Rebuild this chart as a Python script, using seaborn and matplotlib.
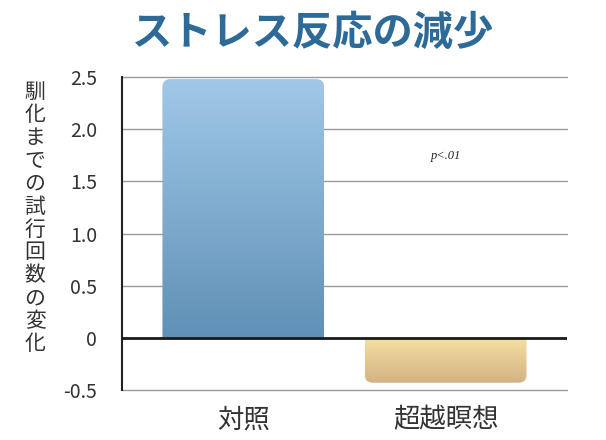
import numpy as np
import pandas as pd
import matplotlib
matplotlib.use('Agg')
import matplotlib.pyplot as plt
import seaborn as sns
from matplotlib.patches import FancyBboxPatch
from matplotlib.colors import LinearSegmentedColormap

# datos
grupos = ['対照', '超越瞑想']
valores = [2.48, -0.43]
yticks = [-0.5, 0, 0.5, 1.0, 1.5, 2.0, 2.5]
ytick_labels = ['-0.5', '0', '0.5', '1.0', '1.5', '2.0', '2.5']
titulo = 'ストレス反応の減少'
ylab = '馴化までの試行回数の変化'
nota = 'p<.01'

sns.set_style('white')
plt.rcParams['font.family'] = ['Noto Sans CJK JP', 'DejaVu Sans']

df = pd.DataFrame({'grupo': grupos, 'valor': valores})

fig = plt.figure(figsize=(6.06, 4.4), dpi=100)
ax = fig.add_axes([0.2013, 0.1136, 0.7343, 0.7114])

sns.barplot(data=df, x='grupo', y='valor', ax=ax, width=0.8, color='white')

# degradados para cada barra (esquinas redondeadas solo en el extremo)
grad = [('#a0c8e7', '#6090b6'), ('#f5dfa2', '#d3b283')]
patches = list(ax.patches)
for p, (c_top, c_bot) in zip(patches, grad):
    x0, w = p.get_x(), p.get_width()
    y0, h = p.get_y(), p.get_height()
    ylo, yhi = min(y0, y0 + h), max(y0, y0 + h)
    p.set_visible(False)
    # se alarga la caja de recorte hacia el cero para que esa esquina quede recta
    if yhi > 0:
        c_lo, c_hi = ylo - 0.2, yhi
    else:
        c_lo, c_hi = ylo, yhi + 0.2
    caja = FancyBboxPatch((x0, c_lo), w, c_hi - c_lo,
                          boxstyle='round,pad=0,rounding_size=0.04',
                          mutation_aspect=1.92, facecolor='none',
                          edgecolor='none', zorder=2)
    ax.add_patch(caja)
    cmap = LinearSegmentedColormap.from_list('g', [c_top, c_bot])
    img = ax.imshow(np.linspace(0, 1, 256).reshape(-1, 1), cmap=cmap,
                    extent=[x0, x0 + w, ylo, yhi], aspect='auto',
                    origin='upper', zorder=2)
    img.set_clip_path(caja)

ax.set_xlim(-0.6, 1.6)
ax.set_ylim(-0.5, 2.5)
ax.set_aspect('auto')

for y in yticks:
    if y != 0:
        ax.axhline(y, color='#9a9a9a', lw=1, zorder=1, clip_on=False)
ax.axhline(0, color='#1a1a1a', lw=2, zorder=3)

ax.set_yticks(yticks)
ax.set_yticklabels(ytick_labels, fontsize=14, color='#333333')
ax.tick_params(axis='y', length=0, pad=18)
ax.tick_params(axis='x', length=0, pad=12)
ax.set_xticks([0, 1])
ax.set_xticklabels(grupos, fontsize=19, color='#333333')
ax.set_xlabel('')
ax.set_ylabel('')

sns.despine(ax=ax, top=True, right=True, bottom=True)
ax.spines['left'].set_color('#222222')
ax.spines['left'].set_linewidth(1.5)

ax.text(1, 1.74, nota, ha='center', va='center', fontsize=9,
        style='italic', family=['Liberation Serif', 'DejaVu Serif'], color='#222222')

fig.text(0.517, 1 - 33 / 440, titulo, ha='center', va='center',
         fontsize=29, fontweight='bold', color='#2d6a97')

fig.text(35 / 606, 1 - 218 / 440, '\n'.join(ylab), ha='center', va='center',
         fontsize=15, linespacing=1.05, color='#333333')

fig.savefig('out.png', dpi=100)
